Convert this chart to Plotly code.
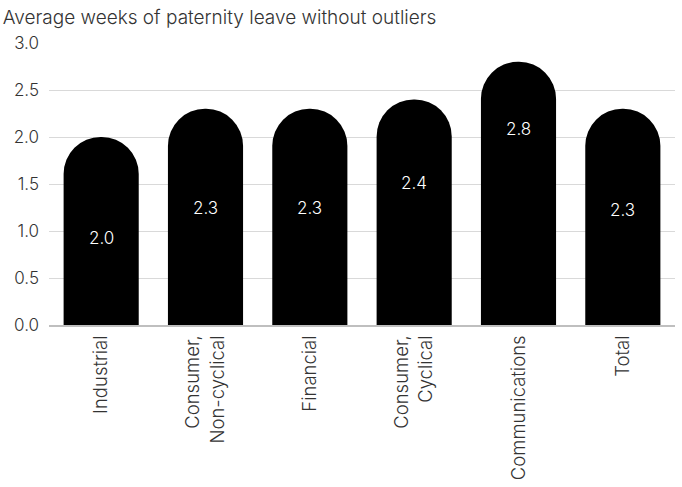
import plotly.graph_objects as go

# Average paternity leave (weeks) by sector, outliers removed
sectors = ["Industrial", "Consumer,<br>Non-cyclical", "Financial",
           "Consumer,<br>Cyclical", "Communications", "Total"]
avg_weeks = [2.0, 2.3, 2.3, 2.4, 2.8, 2.3]
value_labels = ["2.0", "2.3", "2.3", "2.4", "2.8", "2.3"]
# vertical placement of each value label inside its bar (in axis units)
label_heights = [0.93, 1.24, 1.24, 1.51, 2.08, 1.22]
y_ticks = [0.0, 0.5, 1.0, 1.5, 2.0, 2.5, 3.0]

FONT = "Inter"
TXT = "#333333"

fig = go.Figure(
    go.Bar(
        x=sectors,
        y=avg_weeks,
        marker=dict(color="#000000", line=dict(width=0)),
        hoverinfo="x+y",
    )
)

for s, h, t in zip(sectors, label_heights, value_labels):
    fig.add_annotation(
        x=s, y=h, text=t, showarrow=False,
        font=dict(family=FONT, size=17, color="#ffffff", weight=300),
        xanchor="center", yanchor="middle",
    )

fig.update_layout(
    width=682, height=487,
    margin=dict(l=49, r=7, t=43, b=162),
    paper_bgcolor="#ffffff", plot_bgcolor="#ffffff",
    bargap=0.28,
    barcornerradius="50%",
    showlegend=False,
    font=dict(family=FONT, size=17, color=TXT, weight=300),
    title=dict(
        text="Average weeks of paternity leave without outliers",
        x=0.004, xref="container", xanchor="left",
        y=1 - 17 / 487, yref="container", yanchor="middle",
        font=dict(family=FONT, size=19, color=TXT, weight=300),
    ),
    xaxis=dict(
        tickangle=-90,
        showline=True, linecolor="#bfbfbf", linewidth=2,
        showgrid=False, ticks="", ticklen=0,
        ticklabelstandoff=1,
        tickfont=dict(family=FONT, size=18.5, color=TXT, weight=300),
    ),
    yaxis=dict(
        range=[0, 3], tickvals=y_ticks,
        ticktext=[f"{v:.1f}" for v in y_ticks],
        showgrid=True, gridcolor="#d9d9d9", gridwidth=1,
        zeroline=False, showline=False, ticks="",
        ticklabelstandoff=9,
        tickfont=dict(family=FONT, size=17, color=TXT, weight=300),
    ),
)

fig.write_html("out.html")
